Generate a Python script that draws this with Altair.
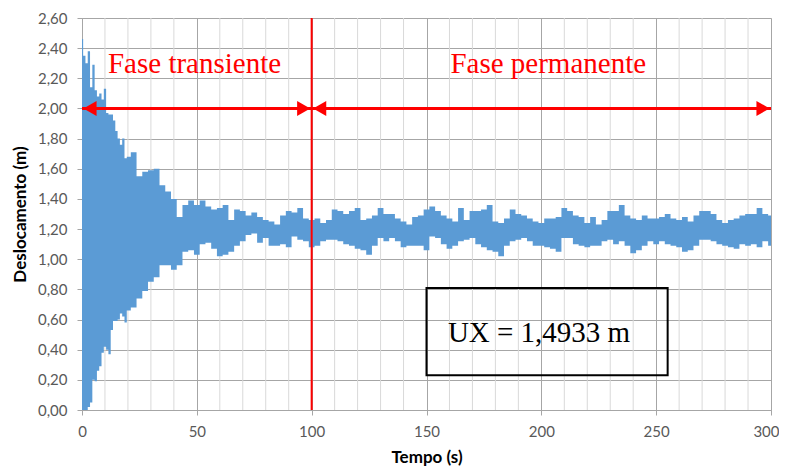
import altair as alt
import pandas as pd

# ---- data ----
# time (s) and upper / lower envelope of the displacement signal (m)
t_vals = [0, 1, 2, 3, 4, 5, 6, 7, 8, 9, 10, 11, 12, 13, 14, 15, 16, 17, 18, 19, 20,
          22.5, 25, 27.5, 30, 32.5, 35, 37.5, 40, 42.5, 45, 47.5, 50, 52.5, 55, 57.5,
          60, 62.5, 65, 67.5, 70, 72.5, 75, 77.5, 80, 82.5, 85, 87.5, 90, 92.5, 95, 97.5,
          100, 102.5, 105, 107.5, 110, 112.5, 115, 117.5, 120, 122.5, 125, 127.5, 130,
          132.5, 135, 137.5, 140, 142.5, 145, 147.5, 150, 152.5, 155, 157.5, 160, 162.5,
          165, 167.5, 170, 172.5, 175, 177.5, 180, 182.5, 185, 187.5, 190, 192.5, 195,
          197.5, 200, 202.5, 205, 207.5, 210, 212.5, 215, 217.5, 220, 222.5, 225, 227.5,
          230, 232.5, 235, 237.5, 240, 242.5, 245, 247.5, 250, 252.5, 255, 257.5, 260,
          262.5, 265, 267.5, 270, 272.5, 275, 277.5, 280, 282.5, 285, 287.5, 290, 292.5,
          295, 297.5, 300]
upper_vals = [2.46, 2.35, 2.30, 2.38, 2.14, 2.29, 2.12, 2.08, 2.10, 2.06, 2.13, 1.97, 1.96,
              1.96, 1.92, 1.85, 1.80, 1.76, 1.80, 1.67, 1.68,
              1.71, 1.55, 1.58, 1.59, 1.60, 1.49, 1.45, 1.40, 1.28, 1.36, 1.39, 1.36, 1.39,
              1.35, 1.33, 1.34, 1.36, 1.26, 1.33, 1.32, 1.29, 1.31, 1.28, 1.26, 1.25, 1.23,
              1.29, 1.32, 1.31, 1.34, 1.27,
              1.26, 1.27, 1.24, 1.26, 1.33, 1.32, 1.30, 1.32, 1.34, 1.26, 1.27, 1.29, 1.34,
              1.30, 1.30, 1.27, 1.25, 1.23, 1.28, 1.29, 1.33, 1.35, 1.32, 1.29, 1.27, 1.25,
              1.34, 1.26, 1.32, 1.32, 1.33, 1.36, 1.25, 1.24, 1.27, 1.33, 1.30, 1.29, 1.27,
              1.25, 1.24, 1.27, 1.27, 1.28, 1.34, 1.32, 1.29, 1.28, 1.24, 1.28, 1.23, 1.26,
              1.32, 1.32, 1.36, 1.29, 1.27, 1.26, 1.29, 1.27, 1.27, 1.28, 1.30, 1.27, 1.26,
              1.28, 1.25, 1.29, 1.32, 1.32, 1.30, 1.26, 1.24, 1.26, 1.27, 1.29, 1.30, 1.30,
              1.34, 1.30, 1.29]
lower_vals = [0.00, 0.00, 0.00, 0.02, 0.05, 0.20, 0.19, 0.26, 0.29, 0.38, 0.42, 0.40, 0.37,
              0.53, 0.59, 0.59, 0.60, 0.64, 0.62, 0.58, 0.66,
              0.68, 0.74, 0.79, 0.85, 0.88, 0.96, 0.96, 0.93, 0.96, 1.05, 1.06, 1.03, 1.10,
              1.11, 1.07, 1.02, 1.03, 1.05, 1.09, 1.12, 1.16, 1.17, 1.11, 1.14, 1.09, 1.09,
              1.10, 1.08, 1.15, 1.13, 1.12,
              1.08, 1.09, 1.12, 1.13, 1.13, 1.12, 1.10, 1.09, 1.07, 1.06, 1.03, 1.09, 1.14,
              1.12, 1.14, 1.12, 1.08, 1.09, 1.09, 1.09, 1.06, 1.15, 1.14, 1.10, 1.07, 1.09,
              1.12, 1.13, 1.14, 1.10, 1.08, 1.06, 1.05, 1.02, 1.09, 1.12, 1.13, 1.14, 1.12,
              1.09, 1.09, 1.08, 1.07, 1.05, 1.14, 1.14, 1.10, 1.09, 1.08, 1.09, 1.09, 1.12,
              1.13, 1.10, 1.12, 1.09, 1.04, 1.06, 1.09, 1.12, 1.10, 1.12, 1.10, 1.09, 1.08,
              1.05, 1.06, 1.09, 1.13, 1.13, 1.12, 1.10, 1.09, 1.08, 1.07, 1.10, 1.09, 1.10,
              1.08, 1.12, 1.09]

x_ticks = [0, 50, 100, 150, 200, 250, 300]
x_minor = [10, 20, 30, 40, 60, 70, 80, 90, 110, 120, 130, 140, 160, 170, 180, 190,
           210, 220, 230, 240, 260, 270, 280, 290]
y_ticks = [0.0, 0.2, 0.4, 0.6, 0.8, 1.0, 1.2, 1.4, 1.6, 1.8, 2.0, 2.2, 2.4, 2.6]

split_time = 100
arrow_level = 2.0
arrow_starts = [0, 100]
arrow_ends = [100, 300]
phase_labels = ["Fase transiente", "Fase permanente"]
phase_label_x = [49, 203]
phase_label_y = 2.235
box_x = [150, 255]
box_y = [0.23, 0.81]
result_text = "UX = 1,4933 m"
result_x = 199
result_y = 0.453

# ---- tables ----
sig = pd.DataFrame({"t": t_vals, "hi": upper_vals, "lo": lower_vals})
minor = pd.DataFrame({"t": x_minor})
arrows = pd.DataFrame({"a": arrow_starts, "b": arrow_ends, "y": [arrow_level] * 2})
heads_r = pd.DataFrame({"x": arrow_ends, "y": [arrow_level] * 2})
heads_l = pd.DataFrame({"x": arrow_starts, "y": [arrow_level] * 2})
labels = pd.DataFrame({"x": phase_label_x, "y": [phase_label_y] * 2, "txt": phase_labels})
box = pd.DataFrame({"x": [box_x[0]], "x2": [box_x[1]], "y": [box_y[0]], "y2": [box_y[1]]})
res = pd.DataFrame({"x": [result_x], "y": [result_y], "txt": [result_text]})

RED = "#FF0000"
xs = alt.Scale(domain=[0, 300], nice=False, zero=False)
ys = alt.Scale(domain=[0, 2.6], nice=False, zero=False)

x_axis = alt.Axis(values=x_ticks, title="Tempo (s)", grid=True, gridColor="#A6A6A6",
                  labelFont="Lato", labelFontSize=15, labelColor="#595959",
                  labelPadding=9, tickSize=5, tickColor="#A6A6A6", labelOverlap=False,
                  labelFlush=False,
                  labelAlign={"condition": {"test": "datum.value >= 300", "value": "right"},
                              "value": "center"},
                  labelOffset={"condition": {"test": "datum.value >= 300", "value": 8},
                               "value": 0},
                  domainColor="#A6A6A6", titleFont="Lato", titleFontSize=17,
                  titleFontWeight="bold", titleColor="#000000", titlePadding=10)
y_axis = alt.Axis(values=y_ticks, title="Deslocamento (m)", grid=True, gridColor="#A6A6A6",
                  labelOverlap=False, labelFlush=False,
                  labelExpr="replace(format(datum.value, '.2f'), '.', ',')",
                  labelFont="Lato", labelFontSize=15, labelColor="#595959",
                  labelPadding=10, tickSize=5, tickColor="#A6A6A6",
                  domainColor="#A6A6A6", titleFont="Lato", titleFontSize=17,
                  titleFontWeight="bold", titleColor="#000000", titlePadding=8)


def X(field):
    return alt.X(field, scale=xs, axis=x_axis)


def Y(field):
    return alt.Y(field, scale=ys, axis=y_axis)


minor_grid = alt.Chart(minor).mark_rule(color="#D9D9D9", strokeWidth=1).encode(x=X("t:Q"))

band = alt.Chart(sig).mark_area(color="#5B9BD5", interpolate="step", opacity=1).encode(
    x=X("t:Q"), y=Y("hi:Q"), y2="lo:Q")

vline = alt.Chart(pd.DataFrame({"x": [split_time]})).mark_rule(color=RED, strokeWidth=2).encode(
    x=X("x:Q"))

shafts = alt.Chart(arrows).mark_rule(color=RED, strokeWidth=3).encode(
    x=X("a:Q"), x2="b:Q", y=Y("y:Q"))

hr = alt.Chart(heads_r).mark_point(shape="triangle-right", filled=True, color=RED, opacity=1,
                                   size=230, xOffset=-8).encode(x=X("x:Q"), y=Y("y:Q"))
hl = alt.Chart(heads_l).mark_point(shape="triangle-left", filled=True, color=RED, opacity=1,
                                   size=230, xOffset=8).encode(x=X("x:Q"), y=Y("y:Q"))

phase_txt = alt.Chart(labels).mark_text(font="Liberation Serif", fontSize=29, color=RED,
                                        baseline="alphabetic", align="center").encode(
    x=X("x:Q"), y=Y("y:Q"), text="txt:N")

box_mark = alt.Chart(box).mark_rect(fillOpacity=0, stroke="#000000", strokeWidth=2).encode(
    x=X("x:Q"), x2="x2:Q", y=Y("y:Q"), y2="y2:Q")

res_txt = alt.Chart(res).mark_text(font="Liberation Serif", fontSize=29, color="#000000",
                                   baseline="alphabetic", align="center").encode(
    x=X("x:Q"), y=Y("y:Q"), text="txt:N")

chart = alt.layer(minor_grid, band, vline, shafts, hr, hl, phase_txt, box_mark, res_txt).properties(
    width=689, height=392,
    autosize=alt.AutoSizeParams(type="none"),
    padding={"left": 74, "top": 10, "right": 8, "bottom": 61},
).configure_view(stroke=None).configure(background="#FFFFFF")

chart.save("out.html", embed_options={"renderer": "svg", "actions": False})
